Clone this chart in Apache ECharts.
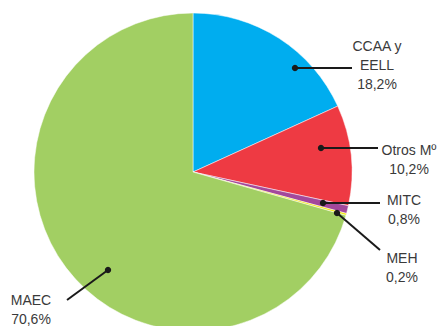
<!DOCTYPE html>
<html>
<head>
<meta charset="utf-8">
<script src="https://cdn.jsdelivr.net/npm/echarts@6/dist/echarts.min.js"></script>
<style>
  html, body { margin: 0; padding: 0; background: #fff; }
  #chart { width: 438px; height: 326px; }
</style>
</head>
<body>
<div id="chart"></div>
<script>
// datos
var names = ["CCAA y\nEELL", "Otros Mº", "MITC", "MEH", "MAEC"];
var values = [18.2, 10.2, 0.8, 0.2, 70.6];
var colors = ["#00adef", "#ee3a43", "#a3489b", "#f2e600", "#a2cf63"];

// posiciones de las etiquetas (punto, fin de linea, texto)
var callouts = [
  { dot: [295, 68], end: [352, 68], text: [377, 36], align: "center" },
  { dot: [321, 148], end: [378, 148], text: [409, 140], align: "center" },
  { dot: [323, 203], end: [380, 203], text: [404, 190], align: "center" },
  { dot: [337, 213], end: [380, 250], text: [402, 248], align: "center" },
  { dot: [108, 270], end: [67, 300], text: [31, 290], align: "center" }
];

function fmt(v) {
  return v.toFixed(1).replace(".", ",") + "%";
}

var chart = echarts.init(document.getElementById("chart"), null, { renderer: "svg" });

var graphics = [];
callouts.forEach(function (c, i) {
  graphics.push({
    type: "line",
    shape: { x1: c.dot[0], y1: c.dot[1], x2: c.end[0], y2: c.end[1] },
    style: { stroke: "#1a1a1a", lineWidth: 2 },
    z: 10
  });
  graphics.push({
    type: "circle",
    shape: { cx: c.dot[0], cy: c.dot[1], r: 3.2 },
    style: { fill: "#1a1a1a" },
    z: 11
  });
  graphics.push({
    type: "text",
    x: c.text[0],
    y: c.text[1],
    style: {
      text: names[i] + "\n" + fmt(values[i]),
      fill: "#3a3a3a",
      font: "14px 'Liberation Sans', Arial, sans-serif",
      align: c.align,
      verticalAlign: "top",
      lineHeight: 19
    },
    z: 12
  });
});

chart.setOption({
  animation: false,
  color: colors,
  graphic: graphics,
  series: [
    {
      type: "pie",
      center: [193, 172],
      radius: 159,
      startAngle: 90,
      clockwise: true,
      silent: true,
      label: { show: false },
      labelLine: { show: false },
      itemStyle: { borderColor: "#fff", borderWidth: 0.5 },
      data: values.map(function (v, i) {
        return { name: names[i], value: v };
      })
    }
  ]
});
</script>
</body>
</html>
